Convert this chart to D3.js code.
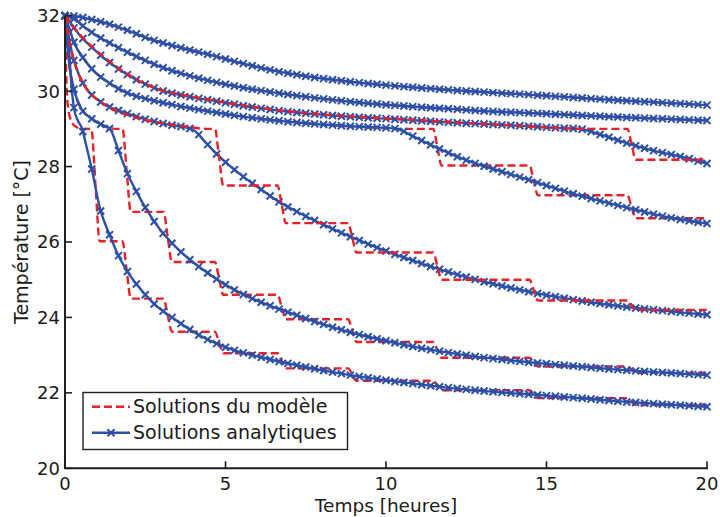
<!DOCTYPE html>
<html><head><meta charset="utf-8">
<script src="https://cdn.jsdelivr.net/npm/d3@7"></script>
<style>
body{margin:0;background:#fff}
svg{display:block}
text{font-family:"DejaVu Sans",sans-serif;fill:#1a1a1a}
</style>
</head><body>
<svg id="chart" width="720" height="517"></svg>
<script>
// ---------- data ----------
const xTicks = [0, 5, 10, 15, 20];
const yTicks = [20, 22, 24, 26, 28, 30, 32];
const legendLabels = ["Solutions du modèle", "Solutions analytiques"];
const xLabel = "Temps [heures]";
const yLabel = "Température [°C]";

// times (hours) at which the model solutions step down
const stepTimes = [0.95, 1.92, 3.2, 4.8, 6.75, 8.95, 11.6, 14.6, 17.65];

// analytic solutions [hours, °C]
const analyticA = [[0,32],[0.3,31.99],[0.5,31.96],[0.88,31.89],[1.4,31.77],[1.92,31.62],[2.65,31.38],[2.96,31.3],[3.7,31.13],[4.52,30.96],[5.5,30.74],[6.7,30.51],[7.8,30.36],[8.88,30.25],[10,30.16],[11,30.09],[12,30.03],[13.55,29.95],[14.2,29.92],[15.5,29.85],[17,29.77],[18.5,29.7],[20,29.63]];
const analyticB = [[0,32],[0.15,31.97],[0.36,31.87],[0.6,31.7],[0.88,31.53],[1.4,31.27],[1.92,31.04],[2.65,30.76],[2.96,30.65],[3.7,30.45],[4.52,30.27],[5.5,30.1],[6.7,29.94],[7.8,29.82],[8.88,29.72],[10,29.64],[11,29.58],[12,29.53],[13.55,29.45],[14.2,29.43],[15.5,29.38],[17,29.32],[18.5,29.27],[20,29.22]];
const analyticC = [[0,32],[0.1,31.9],[0.3,31.65],[0.55,31.4],[0.88,31.13],[1.4,30.75],[1.92,30.45],[2.65,30.13],[2.96,30.03],[3.7,29.88],[4.52,29.76],[5.5,29.62],[6.7,29.48],[7.8,29.39],[8.88,29.32],[10,29.27],[11,29.22],[12,29.17],[13,29.13],[14.2,29.08],[15.2,29.03],[16.1,28.99],[16.6,28.87],[17,28.76],[17.7,28.57],[18.3,28.43],[19.2,28.26],[20,28.08]];
const analyticD = [[0,32],[0.1,31.75],[0.3,31.25],[0.55,30.9],[0.88,30.55],[1.4,30.2],[1.92,29.96],[2.65,29.77],[2.96,29.71],[3.7,29.58],[4.52,29.46],[5.5,29.33],[6.7,29.21],[7.8,29.13],[8.88,29.07],[9.7,29.04],[10.33,29.0],[10.85,28.8],[11.58,28.5],[12.2,28.27],[12.9,28.05],[13.55,27.88],[14.17,27.72],[14.59,27.61],[15.63,27.33],[16.67,27.09],[17.7,26.87],[18.7,26.67],[20,26.49]];
const analyticE = [[0,32],[0.08,31.6],[0.25,30.9],[0.45,30.4],[0.68,30.05],[1.0,29.78],[1.3,29.62],[1.92,29.41],[2.65,29.22],[3.3,29.1],[3.79,29.03],[4.0,28.97],[4.4,28.62],[4.8,28.27],[5.2,27.97],[5.6,27.7],[6.0,27.46],[6.6,27.1],[7.3,26.77],[8,26.48],[9,26.1],[10,25.76],[11,25.46],[12,25.19],[13,24.96],[14,24.76],[15,24.59],[16,24.45],[17,24.33],[18,24.23],[19,24.15],[20,24.07]];
const analyticQ = [[0,32],[0.05,31.4],[0.15,30.6],[0.3,29.98],[0.52,29.52],[0.83,29.27],[1.09,29.13],[1.4,29.0],[1.66,28.44],[1.92,27.86],[2.23,27.33],[2.49,26.93],[2.96,26.33],[3.32,25.98],[3.89,25.53],[4.41,25.2],[5.03,24.85],[5.65,24.57],[6.48,24.28],[7.21,24.06],[8,23.83],[9,23.58],[10,23.38],[11,23.2],[12,23.06],[13,22.94],[14,22.85],[15,22.77],[16,22.7],[17,22.63],[18,22.57],[19,22.52],[20,22.47]];
const analyticP = [[0,32],[0.06,31.9],[0.14,30.9],[0.21,30.05],[0.28,29.55],[0.4,29.22],[0.52,29.03],[0.65,28.6],[0.83,27.95],[1.09,26.89],[1.4,26.17],[1.66,25.65],[1.92,25.25],[2.23,24.88],[2.75,24.38],[3.37,23.98],[4.2,23.52],[5.03,23.2],[6.07,22.95],[7.3,22.72],[8.2,22.57],[9.2,22.43],[10.4,22.29],[11.7,22.16],[13.2,22.04],[14.8,21.94],[16.2,21.85],[17.5,21.76],[18.8,21.69],[20,21.63]];

// model solutions: smooth lead-in [hours, °C], first step index, plateau levels after each step
const modelLeadA = [[0,32],[0.3,31.99],[0.5,31.96],[0.88,31.89],[1.4,31.77],[1.92,31.62],[2.65,31.38],[2.96,31.3],[3.7,31.13],[4.52,30.96],[5.5,30.74],[6.7,30.51],[7.8,30.36],[8.88,30.25],[10,30.16],[11,30.09],[12,30.03],[13.55,29.95],[14.2,29.92],[15.5,29.85],[17,29.77],[18.5,29.7],[20,29.63]];
const modelLeadB = [[0,32],[0.15,31.97],[0.36,31.87],[0.6,31.7],[0.88,31.53],[1.4,31.27],[1.92,31.04],[2.65,30.76],[2.96,30.65],[3.7,30.45],[4.52,30.27],[5.5,30.1],[6.7,29.94],[7.8,29.82],[8.88,29.72],[10,29.64],[11,29.58],[12,29.53],[13.55,29.45],[14.2,29.43],[15.5,29.38],[17,29.32],[18.5,29.27],[20,29.22]];
const modelLeadC = [[0,32],[0.1,31.9],[0.3,31.66],[0.55,31.42],[0.88,31.15],[1.4,30.78],[1.92,30.47],[2.65,30.14],[2.96,30.04],[3.7,29.89],[4.52,29.77],[5.5,29.63],[6.7,29.49],[7.8,29.4],[8.88,29.33],[10,29.28],[11,29.23],[12,29.18],[13,29.13],[14.2,29.08],[15.2,29.03],[16.1,29.0]];
const modelLeadD = [[0,32],[0.1,31.75],[0.3,31.25],[0.55,30.9],[0.88,30.55],[1.4,30.2],[1.92,29.96],[2.65,29.77],[2.96,29.71],[3.7,29.58],[4.52,29.46],[5.5,29.33],[6.7,29.21],[7.8,29.13],[8.88,29.07],[9.7,29.03],[10.33,29.0]];
const modelLeadE = [[0,32],[0.08,31.6],[0.25,30.9],[0.45,30.4],[0.68,30.05],[1.0,29.78],[1.3,29.6],[2.13,29.32],[3.0,29.15],[3.79,29.06],[4.4,29.0]];
const modelLeadQ = [[0,32],[0.05,31.4],[0.15,30.6],[0.3,29.98],[0.52,29.52],[0.83,29.27],[1.09,29.12],[1.4,29.02],[1.7,29.0]];
const modelLeadP = [[0,32],[0.02,31.2],[0.05,30.1],[0.1,29.55],[0.2,29.2],[0.35,29.05],[0.55,29.0]];

const modelStartC = 8, modelLevelsC = [28.18];
const modelStartD = 6, modelLevelsD = [28.03, 27.24, 26.63];
const modelStartE = 3, modelLevelsE = [27.5, 26.5, 25.72, 25.0, 24.45, 24.2];
const modelStartQ = 1, modelLevelsQ = [26.8, 25.47, 24.6, 23.95, 23.35, 22.93, 22.7, 22.53];
const modelStartP = 0, modelLevelsP = [26.02, 24.5, 23.62, 23.05, 22.65, 22.32, 22.07, 21.86, 21.68];

const markerCount = 72; // markers at regular time intervals on analytic curves

// ---------- drawing ----------
const BLUE = "#2b50a8", RED = "#ea2027", AXIS = "#1f1f1f";
const svg = d3.select("#chart");
const x = d3.scaleLinear().domain([0, 20]).range([65, 707]);
const y = d3.scaleLinear().domain([20, 32]).range([468.3, 15.7]);
const line = d3.line().x(d => x(d[0])).y(d => y(d[1])).curve(d3.curveMonotoneX);

function modelPoints(lead, startIdx, levels) {
  const pts = lead.map(d => [d[0], d[1]]);
  let cur = lead[lead.length - 1][1];
  const w = 0.13;
  levels.forEach((lv, i) => {
    const t = stepTimes[startIdx + i];
    pts.push([t - w, cur], [t, (cur + lv) / 2], [t + w, lv]);
    cur = lv;
  });
  if (pts[pts.length - 1][0] < 20) pts.push([20, cur]);
  return pts;
}

const models = {
  A: modelPoints(modelLeadA, 0, []),
  B: modelPoints(modelLeadB, 0, []),
  C: modelPoints(modelLeadC, modelStartC, modelLevelsC),
  D: modelPoints(modelLeadD, modelStartD, modelLevelsD),
  E: modelPoints(modelLeadE, modelStartE, modelLevelsE),
  Q: modelPoints(modelLeadQ, modelStartQ, modelLevelsQ),
  P: modelPoints(modelLeadP, modelStartP, modelLevelsP)
};
const analytics = {A: analyticA, B: analyticB, C: analyticC, D: analyticD, E: analyticE, Q: analyticQ, P: analyticP};

const gData = svg.append("g");

function drawModel(key) {
  gData.append("path").attr("d", line(models[key]))
    .attr("fill", "none").attr("stroke", RED).attr("stroke-width", 2.4)
    .attr("stroke-dasharray", "8,4");
}
function xMarker(g, cx, cy) {
  const s = 3.5;
  g.append("path").attr("d", `M${cx-s},${cy-s}L${cx+s},${cy+s}M${cx-s},${cy+s}L${cx+s},${cy-s}`)
    .attr("stroke", BLUE).attr("stroke-width", 2).attr("fill", "none");
}
function drawAnalytic(key) {
  const p = gData.append("path").attr("d", line(analytics[key]))
    .attr("fill", "none").attr("stroke", BLUE).attr("stroke-width", 2.4);
  const node = p.node();
  const L = node.getTotalLength();
  const g = gData.append("g");
  for (let k = 0; k <= markerCount; k++) {
    const tx = x(20 * k / markerCount);
    let lo = 0, hi = L;
    for (let it = 0; it < 40; it++) {
      const mid = (lo + hi) / 2;
      if (node.getPointAtLength(mid).x < tx) lo = mid; else hi = mid;
    }
    const pt = node.getPointAtLength((lo + hi) / 2);
    xMarker(g, pt.x, pt.y);
  }
}

["A", "B", "D", "Q", "P"].forEach(drawModel);
["A", "B", "C", "D", "E", "Q", "P"].forEach(drawAnalytic);
["C", "E"].forEach(drawModel);

// axes
const gAx = svg.append("g");
gAx.append("line").attr("x1", x(0)).attr("x2", x(0)).attr("y1", y(32)).attr("y2", y(20))
  .attr("stroke", AXIS).attr("stroke-width", 2);
gAx.append("line").attr("x1", x(0) - 1).attr("x2", x(20) + 1).attr("y1", y(20)).attr("y2", y(20))
  .attr("stroke", AXIS).attr("stroke-width", 2);
xTicks.forEach(t => {
  gAx.append("line").attr("x1", x(t)).attr("x2", x(t)).attr("y1", y(20)).attr("y2", y(20) - 7)
    .attr("stroke", AXIS).attr("stroke-width", 1.6);
  gAx.append("text").attr("x", x(t)).attr("y", 490).attr("text-anchor", "middle")
    .attr("font-size", 18).text(t);
});
yTicks.forEach(t => {
  gAx.append("line").attr("x1", x(0)).attr("x2", x(0) + 7).attr("y1", y(t)).attr("y2", y(t))
    .attr("stroke", AXIS).attr("stroke-width", 1.6);
  gAx.append("text").attr("x", 60).attr("y", y(t)).attr("dy", "0.36em").attr("text-anchor", "end")
    .attr("font-size", 18).text(t);
});
svg.append("text").attr("x", (x(0) + x(20)) / 2).attr("y", 512).attr("text-anchor", "middle")
  .attr("font-size", 18.5).text(xLabel);
svg.append("text").attr("transform", `translate(28,${(y(20) + y(32)) / 2}) rotate(-90)`)
  .attr("text-anchor", "middle").attr("font-size", 19).text(yLabel);

// legend
const lg = svg.append("g");
lg.append("rect").attr("x", 83).attr("y", 392.5).attr("width", 264.5).attr("height", 57)
  .attr("fill", "#fff").attr("stroke", AXIS).attr("stroke-width", 1.4);
lg.append("line").attr("x1", 92).attr("x2", 130).attr("y1", 406.7).attr("y2", 406.7)
  .attr("stroke", RED).attr("stroke-width", 2.4).attr("stroke-dasharray", "8,4");
lg.append("line").attr("x1", 92).attr("x2", 130).attr("y1", 432.7).attr("y2", 432.7)
  .attr("stroke", BLUE).attr("stroke-width", 2.4);
xMarker(lg, 111, 432.7);
lg.append("text").attr("x", 133).attr("y", 413).attr("font-size", 19).text(legendLabels[0]);
lg.append("text").attr("x", 133).attr("y", 439).attr("font-size", 19).text(legendLabels[1]);
</script>
</body></html>
